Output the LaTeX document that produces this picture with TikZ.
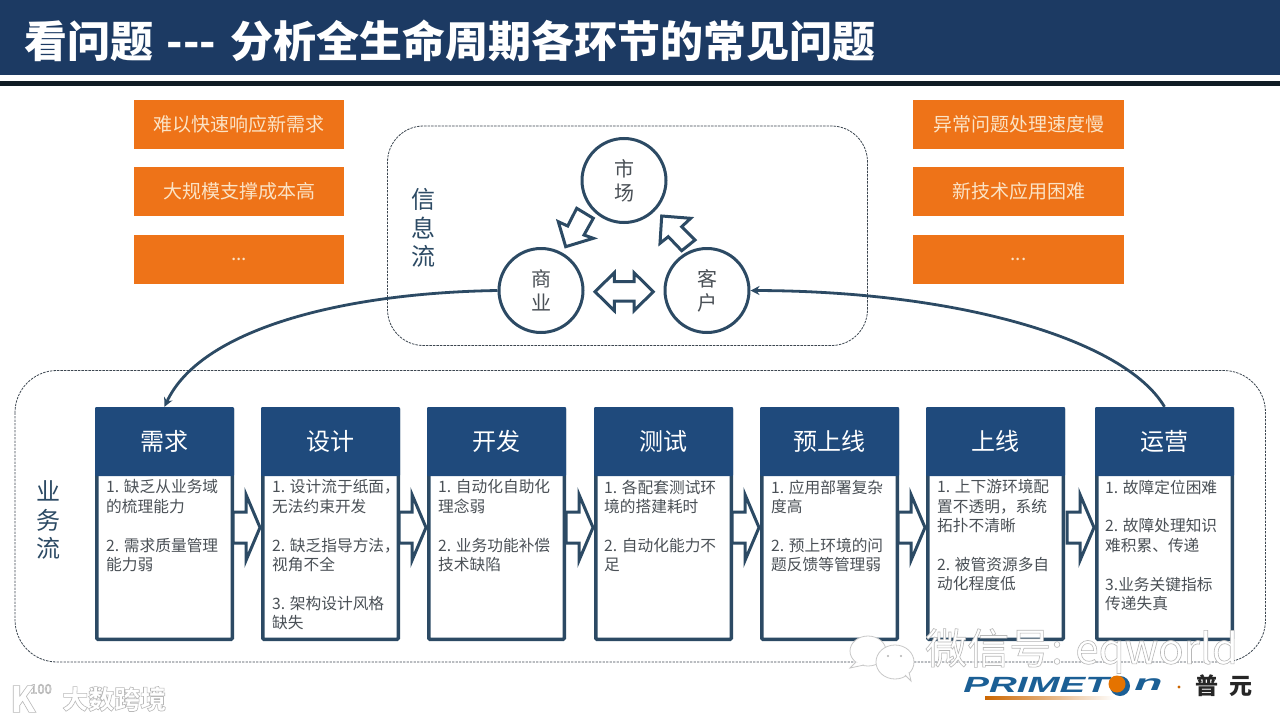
\documentclass[tikz,border=0pt]{standalone}
\usepackage{fontspec}
\setmainfont{Noto Sans CJK SC}
\newfontfamily\logofont{Liberation Sans}
\usetikzlibrary{calc,arrows.meta,shadings}
\definecolor{band}{HTML}{1C3A63}
\definecolor{rulec}{HTML}{101C24}
\definecolor{ink}{HTML}{2C4A64}
\definecolor{headc}{HTML}{1F4A7C}
\definecolor{bodyc}{HTML}{4A5056}
\definecolor{orangec}{HTML}{EE7318}
\definecolor{creamc}{HTML}{FBE3C5}
\definecolor{dashc}{HTML}{3C4650}
\definecolor{logoc}{HTML}{1B5F95}
\tikzset{
  x=1pt,y=-1pt,
  orangebox/.style={fill=orangec,draw=none,minimum width=210.5pt,minimum height=49pt,inner sep=0pt,text=creamc,font=\fontsize{19}{22}\selectfont},
  frameline/.style={dash pattern=on 2.4pt off 1.1pt,draw=dashc,line width=0.8pt},
  circlenode/.style={circle,draw=ink,line width=3pt,fill=white,minimum size=84pt,inner sep=0pt,align=center,text=bodyc,font=\fontsize{20}{24}\selectfont},
  sidelabel/.style={inner sep=0pt,align=center,text=ink,font=\fontsize{24}{28.5}\selectfont},
  framebox/.style={draw=ink,line width=3.5pt,fill=white,rounded corners=1pt,minimum width=135.5pt,minimum height=230.5pt,inner sep=0pt},
  headbox/.style={fill=headc,draw=none,rounded corners=1pt,minimum width=139pt,minimum height=69pt,inner sep=0pt,text=white,font=\fontsize{24}{28}\selectfont},
  bodytext/.style={inner sep=0pt,align=left,text=bodyc,font=\fontsize{15.7}{19.4}\selectfont},
  blockarrow/.style={draw=ink,line width=3pt,fill=white,miter limit=10},
  flowcurve/.style={draw=ink,line width=2.8pt,-{Stealth[length=9pt,width=9pt]}},
  ghost/.style={draw=black!22,line width=0.8pt,fill=white},
  logotext/.style={anchor=west,inner sep=0pt,text=logoc,font=\logofont\bfseries\itshape\fontsize{22}{26}\selectfont},
}
\newcommand{\stagebox}[5]{%
  \node[framebox] (#1) at (#2,524) {};
  \node[headbox] (#1h) at (#2,441.5) {\raisebox{-1.5pt}{#3}};
  \node[bodytext,anchor=north west] (#1t) at (#4,479.5) {#5};
}
\newcommand{\flowarrow}[1]{%
  \draw[blockarrow,shift={($(#1.west)+(-1,3.5)$)}] (0,0) -- (-14,-33) -- (-14,-15.5) -- (-27,-15.5) -- (-27,15.5) -- (-14,15.5) -- (-14,33) -- cycle;
}
\newcommand{\outlinetext}[1]{\special{pdf:code q 2 Tr 0.6 w 0.72 G 1 g}#1\special{pdf:code Q}}
\begin{document}
\begin{tikzpicture}
\useasboundingbox (0,0) rectangle (1280,720);
\fill[white] (0,0) rectangle (1280,720);
% header
\fill[band] (0,0) rectangle (1280,75);
\fill[rulec] (0,81) rectangle (1280,86);
\node[anchor=west,inner sep=0pt,text=white,font=\bfseries\fontsize{43}{50}\selectfont] (title) at (24,41) {看问题\hspace{0.32em}-{}-{}-\hspace{0.32em}分析全生命周期各环节的常见问题};
% orange boxes
\node[orangebox] (l1) at (239.2,124.5) {\raisebox{-1pt}{难以快速响应新需求}};
\node[orangebox] (l2) at (239.2,191.5) {大规模支撑成本高};
\node[orangebox] (l3) at (239.2,259.5) {...};
\node[orangebox] (r1) at (1018.5,124.5) {\raisebox{-1pt}{异常问题处理速度慢}};
\node[orangebox] (r2) at (1018.5,191.5) {新技术应用困难};
\node[orangebox] (r3) at (1018.5,259.5) {...};
% dashed containers
\draw[frameline,rounded corners=36pt] (387.5,126) rectangle (867.5,345.5);
\draw[frameline,rounded corners=42pt] (15,370.5) rectangle (1265.5,662);
\node[sidelabel] (info) at (423,228) {信\\息\\流};
\node[sidelabel] (biz) at (48,520) {业\\务\\流};
% circles
\node[circlenode] (market) at (624,180.5) {市\\场};
\node[circlenode] (trade) at (541,290.5) {商\\业};
\node[circlenode] (client) at (707,290.5) {客\\户};
\draw[blockarrow] (565.7,246.7) -- (558.3,221.7) -- (567.7,226) -- (576.7,208.3) -- (593.3,218.3) -- (584,235) -- (593.3,238.3) -- cycle;
\draw[blockarrow] (661.7,216) -- (690.7,218.3) -- (681.7,226.7) -- (695,240) -- (681.7,250.7) -- (668.3,236.7) -- (660,243.3) -- cycle;
\draw[blockarrow] (595,291.7) -- (614.3,272.7) -- (614.3,281.7) -- (634,281.7) -- (634,272.7) -- (653.3,291.7) -- (634,310.7) -- (634,301) -- (614.3,301) -- (614.3,310.7) -- cycle;
% stages
\stagebox{s1}{164.5}{需求}{106}{1. 缺乏从业务域\\的梳理能力\\[19.4pt]2. 需求质量管理\\能力弱}
\stagebox{s2}{330.5}{设计}{272}{1. 设计流于纸面，\\无法约束开发\\[19.4pt]2. 缺乏指导方法，\\视角不全\\[19.4pt]3. 架构设计风格\\缺失}
\stagebox{s3}{496.5}{开发}{438}{1. 自动化自助化\\理念弱\\[19.4pt]2. 业务功能补偿\\技术缺陷}
\stagebox{s4}{663.5}{测试}{604}{1. 各配套测试环\\境的搭建耗时\\[19.4pt]2. 自动化能力不\\足}
\stagebox{s5}{829.5}{预上线}{771}{1. 应用部署复杂\\度高\\[19.4pt]2. 预上环境的问\\题反馈等管理弱}
\stagebox{s6}{995.5}{上线}{937}{1. 上下游环境配\\置不透明，系统\\拓扑不清晰\\[19.4pt]2. 被管资源多自\\动化程度低}
\stagebox{s7}{1164.5}{运营}{1105}{1. 故障定位困难\\[19.4pt]2. 故障处理知识\\难积累、传递\\[19.4pt]3.业务关键指标\\传递失真}
\flowarrow{s2}\flowarrow{s3}\flowarrow{s4}\flowarrow{s5}\flowarrow{s6}\flowarrow{s7}
% curved connectors
\draw[flowcurve] (trade.west) .. controls (340,293) and (200,330) .. (s1h.north);
\draw[flowcurve] (s7h.north) .. controls (1125,340) and (960,291) .. (client.east);
% watermark, WeChat
\draw[ghost] (868,651) ellipse (18 and 15);
\draw[ghost] (856,662) -- (850,668) -- (864,665);
\draw[ghost] (895,662) ellipse (19 and 17);
\draw[ghost] (905,675) -- (911,681) -- (909,672);
\fill[black!30] (888,656) circle (1.2) (901,656) circle (1.2);
\node[anchor=west,inner sep=0pt,font=\fontsize{42}{46}\selectfont] (wm) at (925,651) {\outlinetext{微信号: eqworld}};
% bottom left watermark
\node[anchor=west,inner sep=0pt,font=\bfseries\fontsize{36}{40}\selectfont] (kmark) at (10,699) {\outlinetext{K}};
\node[anchor=west,inner sep=0pt,font=\fontsize{13}{15}\selectfont] (kmark2) at (30,689) {\outlinetext{100}};
\node[anchor=west,inner sep=0pt,font=\bfseries\fontsize{26}{30}\selectfont] (dsk) at (62,699) {\outlinetext{大数跨境}};
% primeton logo
\node[logotext,xscale=1.75] (prim) at (963,685) {PRIMET};
\fill[logoc] (1120,686) circle (10);
\fill[orange!90!black] (1117,684) circle (8.5);
\node[logotext,xscale=2.1] (primn) at (1134,685) {n};
\shade[left color=orange!80!black,right color=white] (985,696.5) rectangle (1115,699.5);
\fill[orange!80!black] (1179,687) circle (1.6);
\node[anchor=west,inner sep=0pt,text=black!85,font=\bfseries\fontsize{23}{26}\selectfont] (pu) at (1195,686) {普\hspace{0.5em}元};
\end{tikzpicture}
\end{document}
